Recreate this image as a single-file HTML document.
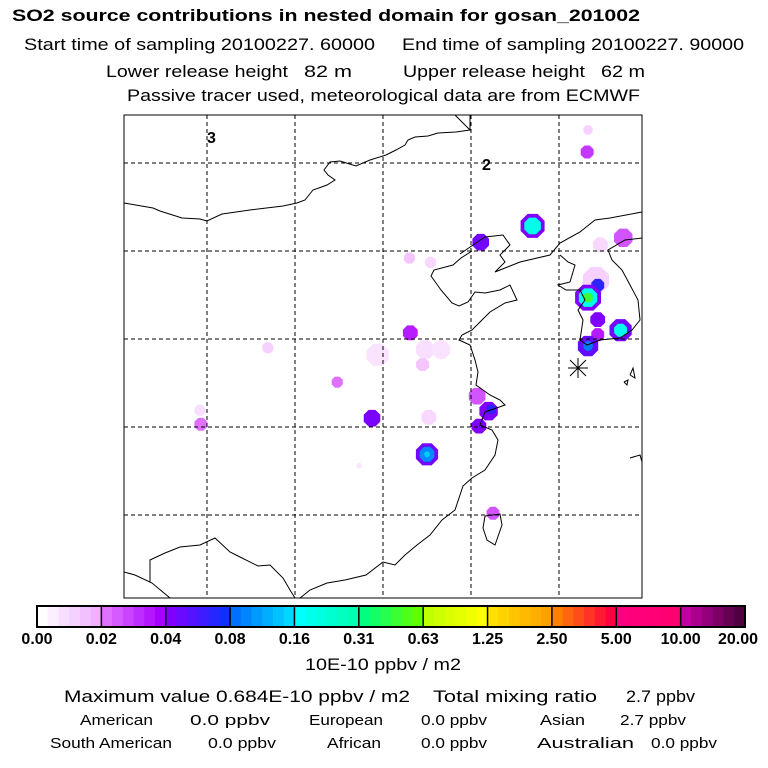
<!DOCTYPE html>
<html><head><meta charset="utf-8"><style>
html,body{margin:0;padding:0;background:#fff;}
svg{display:block;font-family:"Liberation Sans",sans-serif;}
</style></head><body>
<svg id="c" width="768" height="768" viewBox="0 0 768 768">
<g font-size="17">
<text x="12" y="21" font-weight="bold" textLength="628" lengthAdjust="spacingAndGlyphs">SO2 source contributions in nested domain for gosan_201002</text>
<text x="24" y="50" textLength="351" lengthAdjust="spacingAndGlyphs">Start time of sampling 20100227. 60000</text>
<text x="402" y="50" textLength="342" lengthAdjust="spacingAndGlyphs">End time of sampling 20100227. 90000</text>
<text x="106" y="77" textLength="182" lengthAdjust="spacingAndGlyphs">Lower release height</text>
<text x="304" y="77" textLength="48" lengthAdjust="spacingAndGlyphs">82 m</text>
<text x="403" y="77" textLength="182" lengthAdjust="spacingAndGlyphs">Upper release height</text>
<text x="601" y="77" textLength="44" lengthAdjust="spacingAndGlyphs">62 m</text>
<text x="127" y="101" textLength="513" lengthAdjust="spacingAndGlyphs">Passive tracer used, meteorological data are from ECMWF</text>
</g>
<defs><clipPath id="mapclip"><rect x="124" y="115" width="518" height="483"/></clipPath></defs>
<g id="map" clip-path="url(#mapclip)"></g>
<rect x="124" y="115" width="518" height="483" fill="none" stroke="#000" stroke-width="1"/>
<text x="207" y="143" font-size="16" font-weight="bold">3</text>
<text x="482" y="170" font-size="16" font-weight="bold">2</text>
<g id="cbar"></g>
<text x="305" y="670" font-size="17" textLength="156" lengthAdjust="spacingAndGlyphs">10E-10 ppbv / m2</text>
<g font-size="17">
<text x="64" y="702" textLength="346" lengthAdjust="spacingAndGlyphs">Maximum value  0.684E-10 ppbv / m2</text>
<text x="433" y="702" textLength="164" lengthAdjust="spacingAndGlyphs">Total mixing ratio</text>
<text x="626" y="702" textLength="69" lengthAdjust="spacingAndGlyphs">2.7 ppbv</text>
</g>
<g font-size="15">
<text x="80" y="725" textLength="73" lengthAdjust="spacingAndGlyphs">American</text><text x="190" y="725" textLength="80" lengthAdjust="spacingAndGlyphs">0.0 ppbv</text>
<text x="309" y="725" textLength="74" lengthAdjust="spacingAndGlyphs">European</text><text x="421" y="725" textLength="66" lengthAdjust="spacingAndGlyphs">0.0 ppbv</text>
<text x="540" y="725" textLength="45" lengthAdjust="spacingAndGlyphs">Asian</text><text x="620" y="725" textLength="66" lengthAdjust="spacingAndGlyphs">2.7 ppbv</text>
<text x="50" y="748" textLength="122" lengthAdjust="spacingAndGlyphs">South American</text><text x="208" y="748" textLength="68" lengthAdjust="spacingAndGlyphs">0.0 ppbv</text>
<text x="327" y="748" textLength="54" lengthAdjust="spacingAndGlyphs">African</text><text x="421" y="748" textLength="66" lengthAdjust="spacingAndGlyphs">0.0 ppbv</text>
<text x="537" y="748" textLength="97" lengthAdjust="spacingAndGlyphs">Australian</text><text x="651" y="748" textLength="66" lengthAdjust="spacingAndGlyphs">0.0 ppbv</text>
</g>
</svg>
<script>
const levels=[0,0.02,0.04,0.08,0.16,0.31,0.63,1.25,2.5,5,10,20];
const levelLabels=["0.00","0.02","0.04","0.08","0.16","0.31","0.63","1.25","2.50","5.00","10.00","20.00"];
const gridLons=[80,90,100,110,120,130];
const gridLats=[50,40,30,20,10];
const blobLon=[123.3,123.2,117.0,117.0,111.1,127.3,124.7,124.2,124.4,123.3,123.3,123.3,124.4,124.4,127.0,127.0,123.3,123.3,103.0,105.4,103.1,104.8,99.4,106.6,104.5,86.9,94.8,98.75,105.2,79.2,79.3,105.0,105.0,105.0,110.7,112.0,112.3,110.9,112.5,97.3];
const blobLat=[53.75,51.25,42.85,42.85,41.0,41.5,40.7,36.7,36.1,34.7,34.7,34.7,32.2,30.5,31.0,31.0,29.2,29.2,39.2,38.7,30.7,28.8,28.2,28.8,27.1,29.0,25.1,21.0,21.1,21.9,20.3,16.9,16.9,16.9,23.5,21.8,22.0,20.1,10.2,15.6];
const blobVal=[0.012,0.03,0.04,0.2,0.045,0.025,0.01,0.012,0.07,0.04,0.2,0.5,0.04,0.035,0.045,0.2,0.05,0.09,0.015,0.01,0.035,0.008,0.007,0.007,0.015,0.012,0.02,0.042,0.01,0.008,0.02,0.045,0.1,0.15,0.025,0.04,0.07,0.04,0.025,0.006];
const blobR=[5,7,13,9,9,10,8,14,7,14,10,5,8,7,12,7,11,5,6,6,8,10,12,10,7,6,6,9,8,6,7,12,8,3,9,10,5,8,7,3];
const segStart=["#ffffff","#e070ff","#8000ff","#0070ff","#00ffff","#00ff80","#c0ff00","#ffe000","#ff8000","#ff0080","#c000a0"];
const segEnd=["#f0b0ff","#a800ff","#1030ff","#00d8ff","#00ffb0","#60ff00","#ffff00","#ffa000","#ff0040","#ff0070","#500040"];
const NS="http://www.w3.org/2000/svg";
function xLon(lon){return 207+(lon-80)*8.8;}
function yLat(lat){return 163+(50-lat)*8.8;}
function hex(h){return[1,3,5].map(i=>parseInt(h.substr(i,2),16));}
function mix(a,b,t){const A=hex(a),B=hex(b);return "rgb("+A.map((v,i)=>Math.round(v+(B[i]-v)*t)).join(",")+")";}
function colorFor(v){for(let i=0;i<levels.length-1;i++){if(v<levels[i+1]){return mix(segStart[i],segEnd[i],(v-levels[i])/(levels[i+1]-levels[i]));}}return segEnd[segEnd.length-1];}
function mk(tag,attrs,parent){const e=document.createElementNS(NS,tag);for(const k in attrs)e.setAttribute(k,attrs[k]);parent.appendChild(e);return e;}
const map=document.getElementById('map');
for(let i=0;i<blobVal.length;i++){
  const cx=xLon(blobLon[i]),cy=yLat(blobLat[i]),r=blobR[i];
  const pts=[];for(let k=0;k<8;k++){const a=Math.PI/8+k*Math.PI/4;pts.push((cx+r*Math.cos(a)).toFixed(1)+","+(cy+r*Math.sin(a)).toFixed(1));}
  const p=mk('polygon',{points:pts.join(' '),fill:colorFor(blobVal[i])},map);
  
  
}
const lines=[
"124,203 153,208 160,211 182,218 200,219 207,221 222,214 250,210 283,206 297,203 305,200 313,190 327,185 335,180 328,175 324,170 330,162 340,161 356,166 370,160 386,155 396,150 405,145 408,140 415,137 428,136 438,133 456,132 470,130 455,115",
"470,130 470,115",
"460,254 473,245 485,237 503,235 510,245 500,255 505,262 495,272 505,268 520,262 550,255 560,243 580,232 595,220 610,218 642,212",
"472,251 461,258 453,265 434,270 431,276 441,290 452,303 459,306 468,302 475,292 485,293 500,290 510,285 517,300 505,303 490,312 480,322 472,330 462,335 459,340 470,345 475,360 478,372 476,385 490,395 500,400 505,405 485,412 480,425 492,430 498,440 495,455 485,470 472,478 463,486 460,495 455,510 442,520 430,535 417,545 405,555 395,565 383,562 366,575 345,580 327,583 310,590 300,598",
"560,255 568,262 575,265 570,282 558,285 566,290 580,290 585,300 578,310 583,320 580,340 587,345 600,340 620,338 632,330 640,320 638,300 630,285 622,270 612,260 608,250 625,240 642,238",
"124,572 135,575 152,583 170,598",
"150,582 150,560 165,553 180,547 200,545 215,538 230,552 240,557 258,566 270,565 283,578 290,590 295,598",
"485,516 500,514 502,525 495,545 487,540 483,528 485,516",
"630,375 633,368 635,378 630,375",
"624,382 628,380 627,385 624,382",
"630,458 640,455 642,462"
];
lines.forEach((l,i)=>{const e=mk('polyline',{points:l,fill:'none',stroke:'#000','stroke-width':1},map);

});
gridLons.forEach(lon=>{const e=mk('line',{x1:xLon(lon),x2:xLon(lon),y1:115,y2:598,stroke:'#000','stroke-width':1,'stroke-dasharray':'4,3'},map);

});
gridLats.forEach(lat=>{const e=mk('line',{x1:124,x2:642,y1:yLat(lat),y2:yLat(lat),stroke:'#000','stroke-width':1,'stroke-dasharray':'4,3'},map);

});
const sx=578,sy=368;
[[0,-10,0,10],[-10,0,10,0],[-8,-8,8,8],[-8,8,8,-8]].forEach(d=>{const e=mk('line',{x1:sx+d[0],y1:sy+d[1],x2:sx+d[2],y2:sy+d[3],stroke:'#000','stroke-width':1},map);

});
const cb=document.getElementById('cbar');
const x0=37,x1=745,cy0=606,ch=21,segW=(x1-x0)/(levels.length-1),sub=6;
for(let i=0;i<levels.length-1;i++){
  for(let k=0;k<sub;k++){
    const t=k/(sub-1);
    const e=mk('rect',{x:(x0+i*segW+k*segW/sub).toFixed(2),y:cy0,width:(segW/sub+0.6).toFixed(2),height:ch,fill:mix(segStart[i],segEnd[i],t)},cb);
    
    
  }
}
for(let i=1;i<levels.length-1;i++){const e=mk('line',{x1:x0+i*segW,x2:x0+i*segW,y1:cy0,y2:cy0+ch,stroke:'#000','stroke-width':1.5},cb);

}
const fr=mk('rect',{x:x0,y:cy0,width:x1-x0,height:ch,fill:'none',stroke:'#000','stroke-width':2},cb);


levelLabels.forEach((s,i)=>{const t=mk('text',{x:Math.min(Math.max(x0+i*segW,22),738),y:644,'font-size':16,'font-weight':'bold','text-anchor':'middle'},cb);t.textContent=s;

});
</script>
</body></html>
